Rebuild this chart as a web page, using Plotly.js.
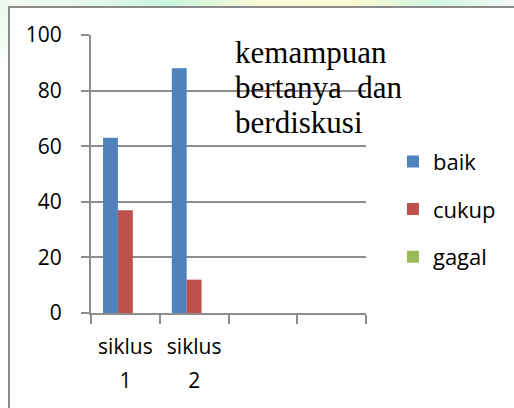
<!DOCTYPE html>
<html>
<head>
<meta charset="utf-8">
<script src="https://cdn.plot.ly/plotly-3.0.1.min.js"></script>
<style>
  html, body { margin: 0; padding: 0; background: #ffffff; }
  #wrap { position: relative; width: 514px; height: 408px; overflow: hidden; background: #ffffff; }
  #topstrip { position: absolute; left: 0; top: 0; width: 514px; height: 6px;
    background: linear-gradient(90deg, #f2fbf4 0%, #e4f8ec 20%, #c9f5de 33%, #fbfbd8 50%, #fdfbd2 68%, #d2f7e3 85%, #f4fbf7 100%); }
  #leftstrip { position: absolute; left: 0; top: 0; width: 8px; height: 70px;
    background: linear-gradient(180deg, #e9f8ee 0%, #f3fbf5 60%, #ffffff 100%); }
  #frame { position: absolute; left: 8px; top: 6px; width: 520px; height: 420px;
    border-top: 2px solid #8a8a8a; border-left: 2px solid #8a8a8a; box-sizing: border-box; }
  #chart { position: absolute; left: 0; top: 0; width: 514px; height: 408px; }
</style>
</head>
<body>
<div id="wrap">
  <div id="topstrip"></div>
  <div id="leftstrip"></div>
  <div id="frame"></div>
  <div id="chart"></div>
</div>
<script>
const categories = ['siklus 1', 'siklus 2', 'c3', 'c4'];
const tickLabelLines = [['siklus', '1'], ['siklus', '2'], [], []];
const baik = [63, 88, null, null];
const cukup = [37, 12, null, null];
const gagal = [0, 0, null, null];
const seriesNames = ['baik', 'cukup', 'gagal'];
const seriesColors = ['#4F81BD', '#C0504D', '#9BBB59'];
const titleLines = ['kemampuan', 'bertanya  dan', 'berdiskusi'];

const span = (t, px) => '<span style="font-size:' + px + 'px">' + t + '</span>';
const tickLabels = tickLabelLines.map(ls => ls.map(l => span(l, 21)).join('<br>'));
const titleText = titleLines.map(l => span(l, 31)).join('<br>');

const seriesValues = [baik, cukup, gagal];
const traces = seriesValues.map((vals, i) => ({
  type: 'bar',
  name: seriesNames[i],
  x: categories,
  y: vals,
  marker: { color: seriesColors[i], line: { width: 0 } },
  legendgroup: 'g' + i,
  hoverinfo: 'none'
}));

const axisFont = { family: 'Open Sans, sans-serif', size: 21, color: '#000000' };
const gridCol = '#8e8e8e';

const layout = {
  width: 514,
  height: 408,
  margin: { l: 91, r: 148, t: 35, b: 95 },
  paper_bgcolor: 'rgba(0,0,0,0)',
  plot_bgcolor: 'rgba(0,0,0,0)',
  barmode: 'group',
  bargap: 0.35,
  bargroupgap: 0,
  showlegend: true,
  title: {
    text: titleText,
    font: { family: 'Liberation Serif, Times New Roman, serif', size: 27, color: '#000000' },
    xref: 'paper', x: 0.524, xanchor: 'left',
    yref: 'container', y: 0.845, yanchor: 'top',
    pad: { t: 0, b: 0, l: 0, r: 0 }
  },
  xaxis: {
    type: 'category',
    categoryorder: 'array',
    categoryarray: categories,
    tickvals: categories,
    ticktext: tickLabels,
    tickson: 'boundaries',
    ticks: 'outside',
    ticklen: 9,
    tickwidth: 2,
    tickcolor: gridCol,
    showline: true,
    linecolor: gridCol,
    linewidth: 2,
    showgrid: false,
    zeroline: false,
    tickfont: { family: 'Open Sans, sans-serif', size: 26, color: '#000000' },
    ticklabelstandoff: 8,
    range: [-0.5, 3.5],
    fixedrange: true
  },
  yaxis: {
    range: [0, 100],
    dtick: 20,
    tick0: 0,
    ticks: 'outside',
    ticklen: 8,
    tickwidth: 2,
    tickcolor: gridCol,
    showline: true,
    linecolor: gridCol,
    linewidth: 2,
    showgrid: true,
    gridcolor: gridCol,
    gridwidth: 2,
    zeroline: false,
    tickfont: axisFont,
    ticklabelstandoff: 15,
    fixedrange: true
  },
  legend: {
    x: 1.098, xref: 'paper', xanchor: 'left',
    y: 0.62, yref: 'paper', yanchor: 'top',
    font: { family: 'Open Sans, sans-serif', size: 22, color: '#000000' },
    bgcolor: 'rgba(0,0,0,0)',
    traceorder: 'grouped',
    tracegroupgap: 16,
    itemwidth: 30
  }
};

Plotly.newPlot('chart', traces, layout, { displayModeBar: false, staticPlot: true });
</script>
</body>
</html>
